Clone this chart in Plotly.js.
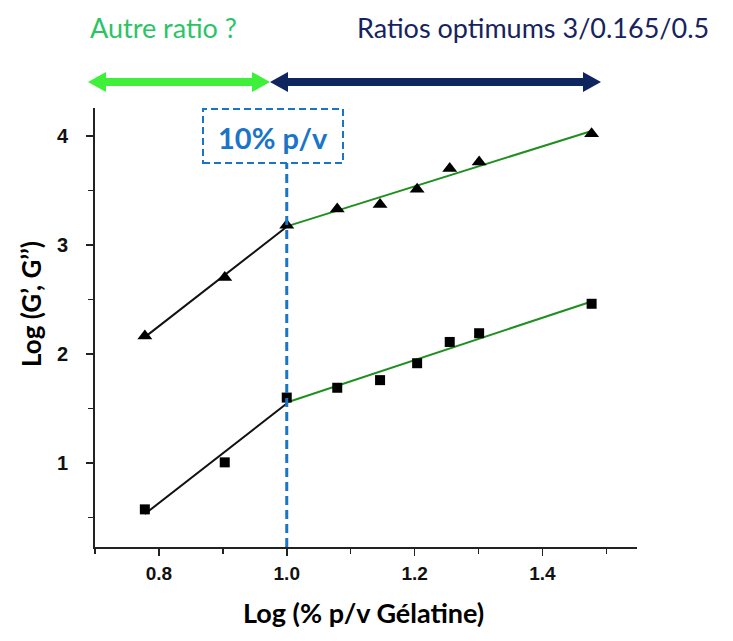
<!DOCTYPE html>
<html><head><meta charset="utf-8">
<script src="https://cdn.plot.ly/plotly-3.0.1.min.js"></script>
<style>html,body{margin:0;padding:0;background:#fff}#chart{width:733px;height:641px}</style>
</head><body><div id="chart"></div>
<script>
// Data
const logConc = [0.778, 0.903, 1.0, 1.079, 1.146, 1.204, 1.255, 1.301, 1.477];
const logGprime = [2.165, 2.70, 3.18, 3.33, 3.37, 3.51, 3.70, 3.76, 4.02];
const logGsecond = [0.575, 1.006, 1.60, 1.69, 1.76, 1.915, 2.11, 2.19, 2.46];
const threshold = 1.0;
const xTickVals = [0.8, 1.0, 1.2, 1.4];
const xTickText = ['0.8', '1.0', '1.2', '1.4'];
const yTickVals = [1, 2, 3, 4];
const yTickText = ['1', '2', '3', '4'];

function linfit(xs, ys) {
  const n = xs.length;
  const mx = xs.reduce((a, b) => a + b, 0) / n;
  const my = ys.reduce((a, b) => a + b, 0) / n;
  let sxy = 0, sxx = 0;
  for (let i = 0; i < n; i++) { sxy += (xs[i] - mx) * (ys[i] - my); sxx += (xs[i] - mx) ** 2; }
  const m = sxy / sxx, b = my - m * mx;
  const x0 = Math.min(...xs), x1 = Math.max(...xs);
  return { x: [x0, x1], y: [m * x0 + b, m * x1 + b] };
}
function segment(xs, ys, low) {
  const sx = [], sy = [];
  xs.forEach((v, i) => { if (low ? v <= threshold : v >= threshold) { sx.push(v); sy.push(ys[i]); } });
  return linfit(sx, sy);
}

const BLACK = '#111111', GREEN = '#1f8f1f', BLUE = '#1a74c8';
const fitTrace = (f, color) => ({ x: f.x, y: f.y, mode: 'lines', line: { color: color, width: 2 }, hoverinfo: 'skip', showlegend: false });

const traces = [
  fitTrace(segment(logConc, logGprime, true), BLACK),
  fitTrace(segment(logConc, logGprime, false), GREEN),
  fitTrace(segment(logConc, logGsecond, true), BLACK),
  fitTrace(segment(logConc, logGsecond, false), GREEN),
  { x: logConc, y: logGprime, mode: 'markers', name: "G'", marker: { symbol: 'triangle-up', size: 13, color: '#000' }, showlegend: false },
  { x: logConc, y: logGsecond, mode: 'markers', name: "G''", marker: { symbol: 'square', size: 10, color: '#000' }, showlegend: false }
];

// Plot area geometry in pixels (for decorations outside the plot)
const W = 733, H = 641, mL = 95, mR = 96, mT = 108, mB = 94;
const pw = W - mL - mR, ph = H - mT - mB;
const px = v => (v - mL) / pw;
const py = v => (H - mB - v) / ph;

function dblArrow(x0, x1, yc, shaft, headLen, headHalf, color) {
  const p = [
    [x0, yc], [x0 + headLen, yc - headHalf], [x0 + headLen, yc - shaft],
    [x1 - headLen, yc - shaft], [x1 - headLen, yc - headHalf], [x1, yc],
    [x1 - headLen, yc + headHalf], [x1 - headLen, yc + shaft],
    [x0 + headLen, yc + shaft], [x0 + headLen, yc + headHalf]
  ];
  const path = 'M' + p.map(q => px(q[0]).toFixed(5) + ',' + py(q[1]).toFixed(5)).join(' L') + ' Z';
  return { type: 'path', xref: 'paper', yref: 'paper', path: path, fillcolor: color, line: { width: 0 } };
}

const shapes = [
  { type: 'line', xref: 'x', yref: 'paper', x0: threshold, x1: threshold, y0: 0, y1: py(163),
    line: { color: BLUE, width: 3, dash: '9px,5px' } },
  { type: 'rect', xref: 'paper', yref: 'paper', x0: px(203), x1: px(343), y0: py(163), y1: py(109),
    line: { color: BLUE, width: 2, dash: '7px,4px' }, fillcolor: 'rgba(0,0,0,0)' },
  dblArrow(88, 270, 82, 4, 18, 10, '#3ff03a'),
  dblArrow(270, 601, 82, 4, 18, 10, '#0f2560')
];

const ann = (x, y, text, font, extra) => Object.assign({
  xref: 'paper', yref: 'paper', x: px(x), y: py(y), text: text, showarrow: false,
  xanchor: 'center', yanchor: 'middle', font: font
}, extra || {});

const annotations = [
  ann(273, 137, '<b>10% p/v</b>', { family: 'Lato, sans-serif', size: 29, color: BLUE }),
  ann(163, 27, 'Autre ratio ?', { family: 'Lato, sans-serif', size: 27, color: '#2bc465' }),
  ann(533, 27, 'Ratios optimums 3/0.165/0.5', { family: 'Lato, sans-serif', size: 27, color: '#16235e' }),
  ann(363, 612, '<b>Log (% p/v Gélatine)</b>', { family: 'Lato, sans-serif', size: 27, color: '#000' }),
  ann(31, 304, '<b>Log (G’, G’’)</b>', { family: 'Lato, sans-serif', size: 26, color: '#000' }, { textangle: -90 })
];

const layout = {
  width: W, height: H,
  margin: { l: mL, r: mR, t: mT, b: mB, pad: 0 },
  paper_bgcolor: '#fff', plot_bgcolor: '#fff',
  showlegend: false,
  xaxis: {
    range: [0.70, 1.548], showgrid: false, zeroline: false,
    showline: true, linecolor: '#222', linewidth: 1.8, mirror: false,
    ticks: 'outside', ticklen: 7, tickwidth: 1.8, tickcolor: '#222',
    tickvals: xTickVals, ticktext: xTickText, ticklabelstandoff: 1,
    minor: { dtick: 0.1, tick0: 0.7, ticks: 'outside', ticklen: 5, tickwidth: 1.5, tickcolor: '#222', showgrid: false },
    tickfont: { family: 'Liberation Sans, Arial, sans-serif', size: 19, weight: 700, color: '#111' }
  },
  yaxis: {
    range: [0.23, 4.255], showgrid: false, zeroline: false,
    showline: true, linecolor: '#222', linewidth: 1.8, mirror: false,
    ticks: 'outside', ticklen: 7, tickwidth: 1.8, tickcolor: '#222',
    tickvals: yTickVals, ticktext: yTickText, ticklabelstandoff: 14,
    minor: { dtick: 0.5, tick0: 0, ticks: 'outside', ticklen: 5, tickwidth: 1.5, tickcolor: '#222', showgrid: false },
    tickfont: { family: 'Liberation Sans, Arial, sans-serif', size: 20, weight: 700, color: '#111' }
  },
  shapes: shapes,
  annotations: annotations
};

Plotly.newPlot('chart', traces, layout, { displayModeBar: false, staticPlot: true });
</script>
</body></html>
